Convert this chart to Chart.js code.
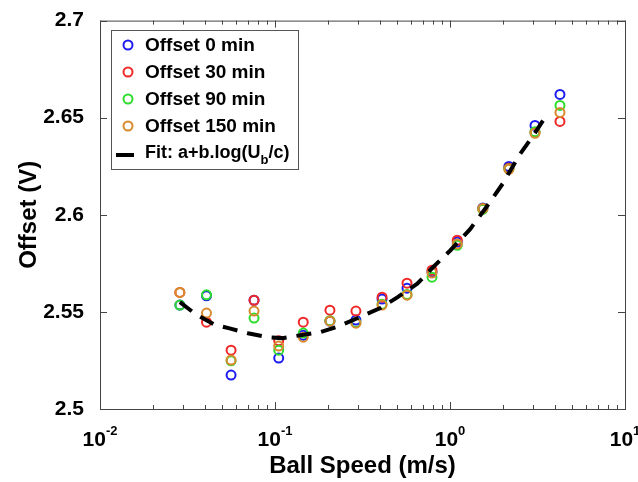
<!DOCTYPE html>
<html>
<head>
<meta charset="utf-8">
<script src="https://cdn.jsdelivr.net/npm/chart.js@4.4.1/dist/chart.umd.min.js"></script>
<style>
  html, body { margin: 0; padding: 0; background: #fff; }
  #wrap { width: 638px; height: 482px; }
</style>
</head>
<body>
<div id="wrap"><canvas id="offsetChart" width="638" height="482"></canvas></div>
<script>
// Datos
const speeds = [0.0286, 0.0406, 0.0561, 0.0759, 0.105, 0.145, 0.206, 0.29, 0.409, 0.568, 0.789, 1.10, 1.54, 2.17, 3.06, 4.25];
const offset0   = [2.5535, 2.5583, 2.5175, 2.5560, 2.5262, 2.5380, 2.5452, 2.5458, 2.5566, 2.5622, 2.5705, 2.5860, 2.6035, 2.6249, 2.6460, 2.6620];
const offset30  = [2.5600, 2.5447, 2.5303, 2.5560, 2.5351, 2.5447, 2.5509, 2.5504, 2.5576, 2.5648, 2.5715, 2.5869, 2.6030, 2.6240, 2.6425, 2.6481];
const offset90  = [2.5535, 2.5588, 2.5248, 2.5468, 2.5303, 2.5391, 2.5455, 2.5445, 2.5540, 2.5590, 2.5679, 2.5843, 2.6028, 2.6236, 2.6428, 2.6563];
const offset150 = [2.5600, 2.5494, 2.5252, 2.5504, 2.5324, 2.5370, 2.5452, 2.5442, 2.5535, 2.5586, 2.5700, 2.5850, 2.6033, 2.6234, 2.6420, 2.6527];

const fitSpeeds = [0.0286, 0.035, 0.045, 0.055, 0.07, 0.09, 0.11, 0.14, 0.18, 0.23, 0.3, 0.4, 0.5, 0.65, 0.8, 1.0, 1.3, 1.6, 2.0, 2.5, 3.0, 3.6];
const fitOffset = [2.555, 2.549, 2.5435, 2.5415, 2.539, 2.537, 2.5365, 2.538, 2.5395, 2.5425, 2.547, 2.552, 2.5575, 2.5645, 2.573, 2.5815, 2.5925, 2.6035, 2.616, 2.631, 2.641, 2.652];

// Etiquetas de ejes
const yTicks = [2.5, 2.55, 2.6, 2.65, 2.7];
const yTickLabels = ['2.5', '2.55', '2.6', '2.65', '2.7'];
const xMajorTicks = [0.01, 0.1, 1, 10];
const xTickExponents = ['-2', '-1', '0', '1'];
const seriesNames = ['Offset 0 min', 'Offset 30 min', 'Offset 90 min', 'Offset 150 min'];
const seriesColors = ['#1c1cf0', '#f02828', '#2edc2e', '#d88a2c'];

const FONT = "'Liberation Sans', Arial, sans-serif";

function toPoints(xs, ys) {
  return xs.map((x, i) => ({ x: x, y: ys[i] }));
}

// Marco con marcas hacia dentro y etiquetas 10^n
const framePlugin = {
  id: 'frame',
  afterDraw(chart) {
    const ctx = chart.ctx;
    const a = chart.chartArea;
    const xs = chart.scales.x;
    const ys = chart.scales.y;
    ctx.save();
    ctx.strokeStyle = '#444';
    ctx.lineWidth = 1;
    ctx.strokeRect(a.left + 0.5, a.top + 0.5, a.right - a.left, a.bottom - a.top);

    ctx.beginPath();
    // marcas eje x (mayores y menores)
    xMajorTicks.forEach((d, k) => {
      const px = Math.round(xs.getPixelForValue(d)) + 0.5;
      ctx.moveTo(px, a.bottom); ctx.lineTo(px, a.bottom - 7);
      ctx.moveTo(px, a.top); ctx.lineTo(px, a.top + 7);
      if (k < xMajorTicks.length - 1) {
        for (let m = 2; m <= 9; m++) {
          const pm = Math.round(xs.getPixelForValue(d * m)) + 0.5;
          ctx.moveTo(pm, a.bottom); ctx.lineTo(pm, a.bottom - 4);
          ctx.moveTo(pm, a.top); ctx.lineTo(pm, a.top + 4);
        }
      }
    });
    // marcas eje y
    yTicks.forEach(v => {
      const py = Math.round(ys.getPixelForValue(v)) + 0.5;
      ctx.moveTo(a.left, py); ctx.lineTo(a.left + 7, py);
      ctx.moveTo(a.right, py); ctx.lineTo(a.right - 7, py);
    });
    ctx.stroke();

    // etiquetas 10^n
    ctx.fillStyle = '#000';
    ctx.textBaseline = 'alphabetic';
    ctx.textAlign = 'left';
    xMajorTicks.forEach((d, k) => {
      const px = xs.getPixelForValue(d);
      ctx.font = 'bold 21px ' + FONT;
      const wBase = ctx.measureText('10').width;
      ctx.font = 'bold 13px ' + FONT;
      const wExp = ctx.measureText(xTickExponents[k]).width;
      const start = px - (wBase + wExp) / 2;
      ctx.font = 'bold 21px ' + FONT;
      ctx.fillText('10', start, 446);
      ctx.font = 'bold 13px ' + FONT;
      ctx.fillText(xTickExponents[k], start + wBase, 435);
    });
    ctx.restore();
  }
};

// Leyenda en recuadro con subíndice
const legendPlugin = {
  id: 'boxLegend',
  afterDraw(chart) {
    const ctx = chart.ctx;
    ctx.save();
    ctx.fillStyle = '#fff';
    ctx.fillRect(111, 30, 187, 139);
    ctx.strokeStyle = '#555';
    ctx.lineWidth = 1;
    ctx.strokeRect(111.5, 30.5, 187, 139);

    const rows = [45, 72, 99, 126, 153];
    ctx.textBaseline = 'middle';
    ctx.textAlign = 'left';
    seriesNames.forEach((name, i) => {
      ctx.beginPath();
      ctx.strokeStyle = seriesColors[i];
      ctx.lineWidth = 2;
      ctx.arc(128, rows[i], 4.5, 0, Math.PI * 2);
      ctx.stroke();
      ctx.fillStyle = '#000';
      ctx.font = 'bold 19px ' + FONT;
      ctx.fillText(name, 145, rows[i] + 1);
    });
    // entrada del ajuste
    const yf = rows[4];
    ctx.strokeStyle = '#000';
    ctx.lineWidth = 4;
    ctx.beginPath();
    ctx.moveTo(116, yf + 2); ctx.lineTo(134, yf + 2);
    ctx.stroke();
    ctx.fillStyle = '#000';
    ctx.font = 'bold 18px ' + FONT;
    let x = 145;
    const t1 = 'Fit: a+b.log(U';
    ctx.fillText(t1, x, yf);
    x += ctx.measureText(t1).width;
    ctx.font = 'bold 13px ' + FONT;
    ctx.fillText('b', x, yf + 7);
    x += ctx.measureText('b').width;
    ctx.font = 'bold 18px ' + FONT;
    ctx.fillText('/c)', x, yf);
    ctx.restore();
  }
};

const scatterSeries = [offset0, offset30, offset90, offset150].map((vals, i) => ({
  label: seriesNames[i],
  data: toPoints(speeds, vals),
  showLine: false,
  pointStyle: 'circle',
  pointRadius: 4.5,
  pointBorderWidth: 2,
  pointBorderColor: seriesColors[i],
  pointBackgroundColor: 'rgba(0,0,0,0)',
  borderColor: seriesColors[i],
  order: 4 - i
}));

const fitSeries = {
  label: 'Fit: a+b.log(Ub/c)',
  data: toPoints(fitSpeeds, fitOffset),
  showLine: true,
  borderColor: '#000',
  borderWidth: 4,
  borderDash: [15, 10],
  pointRadius: 0,
  fill: false,
  tension: 0,
  order: 0
};

new Chart(document.getElementById('offsetChart').getContext('2d'), {
  type: 'scatter',
  data: { datasets: scatterSeries.concat([fitSeries]) },
  options: {
    responsive: false,
    animation: false,
    devicePixelRatio: 1,
    layout: { padding: { top: 20, right: 13, left: 0, bottom: 0 } },
    plugins: { legend: { display: false }, tooltip: { enabled: false } },
    scales: {
      x: {
        type: 'logarithmic',
        min: 0.01,
        max: 10,
        grid: { display: false },
        border: { display: false },
        ticks: { display: false },
        title: {
          display: true,
          text: 'Ball Speed (m/s)',
          color: '#000',
          font: { family: FONT, size: 24, weight: 'bold' },
          padding: { top: 0, bottom: 1 }
        },
        afterFit(s) { s.height = 73; }
      },
      y: {
        type: 'linear',
        min: 2.5,
        max: 2.7,
        grid: { display: false },
        border: { display: false },
        afterBuildTicks(s) { s.ticks = yTicks.map(v => ({ value: v })); },
        ticks: {
          color: '#000',
          padding: 8,
          font: { family: FONT, size: 21, weight: 'bold' },
          callback: (v, i) => yTickLabels[i]
        },
        title: {
          display: true,
          text: 'Offset (V)',
          color: '#000',
          font: { family: FONT, size: 24, weight: 'bold' },
          padding: { top: 15, bottom: 0 }
        },
        afterFit(s) { s.width = 100; }
      }
    }
  },
  plugins: [framePlugin, legendPlugin]
});
</script>
</body>
</html>
